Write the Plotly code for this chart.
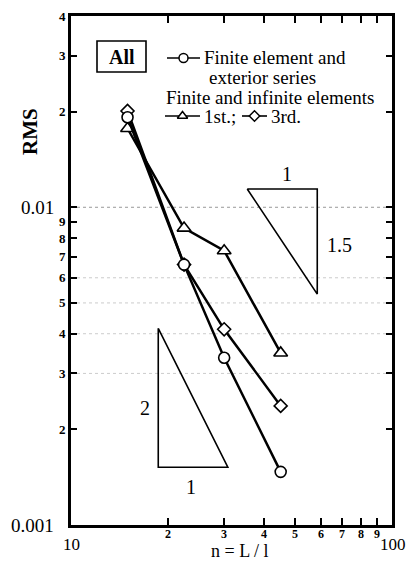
import plotly.graph_objects as go
import math

# ---- data ----
n_vals = [15, 22.5, 30, 45]
fe_exterior = [0.0192, 0.0066, 0.00336, 0.00147]
inf_1st = [0.0177, 0.0086, 0.0073, 0.00348]
inf_3rd = [0.0201, 0.0066, 0.00413, 0.00237]

# slope triangles (data coords)
tri2_x = [18.7, 18.7, 30.8, 18.7]
tri2_y = [0.00416, 0.00152, 0.00152, 0.00416]
tri15_x = [35.4, 58.5, 58.5, 35.4]
tri15_y = [0.01142, 0.01142, 0.00533, 0.01142]

x_minor_ticks = [20, 30, 40, 50, 60, 70, 80, 90]
x_minor_labels = ["2", "3", "4", "5", "6", "7", "8", "9"]
x_major_ticks = [10, 100]
x_major_labels = ["10", "100"]
y_minor_ticks = [0.002, 0.003, 0.004, 0.005, 0.006, 0.007, 0.008, 0.009, 0.02, 0.03, 0.04]
y_minor_labels = ["2", "3", "4", "5", "6", "7", "8", "9", "2", "3", "4"]
y_major_ticks = [0.001, 0.01]
y_major_labels = ["0.001", "0.01"]
grid_vals = [0.003, 0.004, 0.005, 0.006, 0.01]

W, H = 407, 563
L, R, T, B = 71, 392, 16, 525
FONT = "Liberation Serif"


def px(x):
    return (x - L) / (R - L)


def py(y):
    return (B - y) / (B - T)


fig = go.Figure()

line_style = dict(color="black", width=2.5)
fig.add_trace(go.Scatter(x=n_vals, y=inf_1st, mode="lines+markers", line=line_style,
                         marker=dict(symbol="triangle-up", size=12, color="white", line=dict(width=1.6, color="black"))))
fig.add_trace(go.Scatter(x=n_vals, y=inf_3rd, mode="lines+markers", line=line_style,
                         marker=dict(symbol="diamond", size=10, color="white", line=dict(width=1.6, color="black"))))
fig.add_trace(go.Scatter(x=n_vals, y=fe_exterior, mode="lines+markers", line=line_style,
                         marker=dict(symbol="circle", size=11, color="white", line=dict(width=1.6, color="black"))))

for tx, ty in [(tri2_x, tri2_y), (tri15_x, tri15_y)]:
    fig.add_trace(go.Scatter(x=tx, y=ty, mode="lines", line=dict(color="black", width=1.6)))

# legend sample markers on overlay paper-like axes
leg = [
    (167, 200, 58, "circle", 9),
    (165, 200, 116, "triangle-up", 9),
    (242, 267, 116, "diamond", 8),
]
for x0, x1, yy, sym, sz in leg:
    fig.add_trace(go.Scatter(x=[px(x0), px(x1)], y=[py(yy), py(yy)], mode="lines",
                             line=dict(color="black", width=1.6), xaxis="x2", yaxis="y2"))
    fig.add_trace(go.Scatter(x=[px((x0 + x1) / 2)], y=[py(yy)], mode="markers",
                             marker=dict(symbol=sym, size=sz, color="white", line=dict(width=1.5, color="black")),
                             xaxis="x2", yaxis="y2"))

shapes = []
for g in grid_vals:
    shapes.append(dict(type="line", xref="paper", yref="y", x0=0, x1=1, y0=g, y1=g,
                       line=dict(color="#999999" if g == 0.01 else "#cccccc", width=1, dash="dot"), layer="below"))
# "All" box
shapes.append(dict(type="rect", xref="paper", yref="paper", x0=px(97), x1=px(146), y0=py(72), y1=py(41),
                   line=dict(color="black", width=1.6)))

ann = []
for v, t in zip(x_minor_ticks, x_minor_labels):
    ann.append(dict(x=math.log10(v), y=py(534), xref="x", yref="paper", text="<b>" + t + "</b>", showarrow=False,
                    font=dict(family=FONT, size=12, color="black"), xanchor="center", yanchor="middle"))
for v, t, sh in zip(x_major_ticks, x_major_labels, [0, 1]):
    ann.append(dict(x=math.log10(v), y=py(544), xref="x", yref="paper", text=t, showarrow=False, xshift=sh,
                    font=dict(family=FONT, size=17, color="black"), xanchor="center", yanchor="middle"))
for v, t in zip(y_minor_ticks, y_minor_labels):
    ann.append(dict(x=px(68), y=math.log10(v), xref="paper", yref="y", text="<b>" + t + "</b>", showarrow=False,
                    font=dict(family=FONT, size=13, color="black"), xanchor="right", yanchor="middle"))
for v, t in zip(y_major_ticks, y_major_labels):
    ann.append(dict(x=px(56), y=math.log10(v), xref="paper", yref="y", text=t, showarrow=False,
                    font=dict(family=FONT, size=19, color="black"), xanchor="right", yanchor="middle"))


def txt(x, y, t, size=18, anchor="left", angle=0):
    ann.append(dict(x=px(x), y=py(y), xref="paper", yref="paper", text=t, showarrow=False,
                    font=dict(family=FONT, size=size, color="black"), xanchor=anchor, yanchor="middle",
                    textangle=angle))


txt(30, 132, "<b>RMS</b>", 21, "center", -90)
txt(240, 551, "n = L / l", 18, "center")
txt(121.5, 57, "<b>All</b>", 20, "center")
txt(202, 58, "Finite element and", 19)
txt(207, 77, "exterior series", 19)
txt(164, 97, "Finite and infinite elements", 19)
txt(202, 116, "1st.;", 19)
txt(269, 116, "3rd.", 19)
txt(145, 408, "2", 20, "center")
txt(191, 487, "1", 20, "center")
txt(287, 174, "1", 20, "center")
txt(339, 245, "1.5", 20, "center")

fig.update_layout(
    width=W, height=H,
    margin=dict(l=L, r=W - R, t=T, b=H - B),
    plot_bgcolor="white", paper_bgcolor="white",
    showlegend=False,
    shapes=shapes, annotations=ann,
    xaxis=dict(type="log", range=[1, 2], showgrid=False, zeroline=False,
               showline=True, linecolor="black", linewidth=2.5, mirror="ticks",
               tickvals=x_minor_ticks, ticks="inside", ticklen=7, tickwidth=2, tickcolor="black",
               showticklabels=False),
    yaxis=dict(type="log", range=[-3, math.log10(0.04)], showgrid=False, zeroline=False,
               showline=True, linecolor="black", linewidth=2.5, mirror="ticks",
               tickvals=y_minor_ticks + [0.01], ticks="inside", ticklen=6, tickwidth=2, tickcolor="black",
               showticklabels=False),
    xaxis2=dict(range=[0, 1], overlaying="x", visible=False, fixedrange=True),
    yaxis2=dict(range=[0, 1], overlaying="y", visible=False, fixedrange=True),
)

fig.write_html("out.html", config={"displayModeBar": False},
               post_script="document.body.style.margin='0px';")
